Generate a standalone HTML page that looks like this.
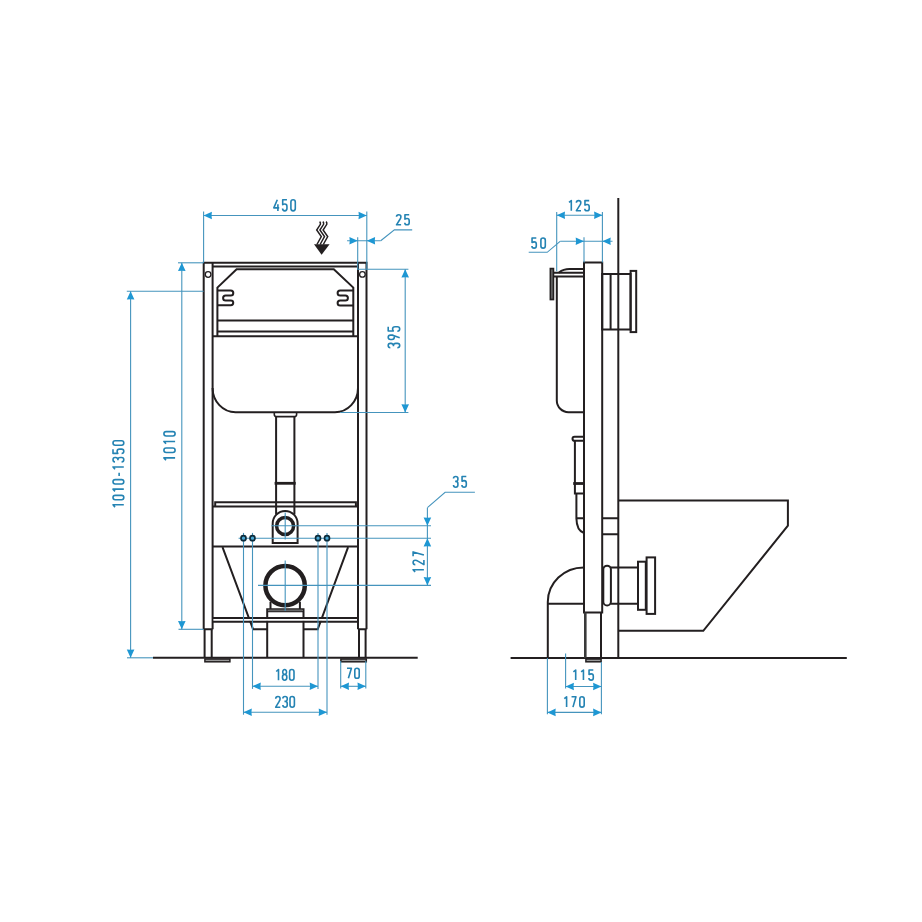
<!DOCTYPE html>
<html><head><meta charset="utf-8"><title>Installation frame drawing</title>
<style>
html,body{margin:0;padding:0;background:#fff;}
body{width:922px;height:922px;overflow:hidden;font-family:"Liberation Sans",sans-serif;}
svg{display:block;}
</style></head>
<body>
<svg width="922" height="922" viewBox="0 0 922 922">
<rect width="922" height="922" fill="#fff"/>
<g stroke="#231f20" stroke-width="2.00" fill="none" stroke-linejoin="miter">
<path d="M203.7,629.3 V262.7 H366.5 V629.3"/>
<path d="M212.6,629.3 V262.7 M358,629.3 V262.7 M212.6,266.5 H358"/>
<path d="M203.7,629.3 H212.6 M358,629.3 H366.5"/>
<path d="M204.6,629.3 V657.8 M211.7,629.3 V657.8 M359,629.3 V657.8 M365.6,629.3 V657.8"/>
<circle cx="208.1" cy="274.5" r="2.8" stroke-width="1.3"/>
<circle cx="362.4" cy="274.4" r="2.8" stroke-width="1.3"/>
<path d="M217.4,336.3 V287.6 L236.6,269.2 H333.8 L353.3,287.6 V336.3"/>
<path d="M217.4,290.4 H230.8 A2.5,2.5 0 0 1 230.8,295.4 H225.6 A2.5,2.5 0 0 0 225.6,300.4 H230.8 A2.45,2.45 0 0 1 230.8,305.3 H217.4"/>
<path d="M353.3,290.4 H340.1 A2.5,2.5 0 0 0 340.1,295.4 H345.4 A2.5,2.5 0 0 1 345.4,300.4 H340.1 A2.5,2.5 0 0 0 340.1,305.4 H353.3"/>
<path d="M217.4,320.4 H353.3 M217.4,331.5 H353.3 M212.6,336.3 H358"/>
<path d="M212.6,388 A23,24.2 0 0 0 235.6,412.2 H335 A23,24.2 0 0 0 358,388"/>
<path d="M274.3,412.2 V414.6 Q274.3,416.6 276.3,416.6 H294.6 Q296.6,416.6 296.6,414.6 V412.2" stroke-width="1.6"/>
<path d="M276.1,416.6 V514.5 M294.4,416.6 V514.5"/>
<path d="M274.6,483.3 H295.7" stroke-width="2.8"/>
<path d="M212.6,506.6 H358 M215.2,506.6 V502.3 H355.9 V506.6"/>
<path d="M272.7,543 V523.4 A12.45,12.45 0 0 1 297.6,523.4 V543 Z"/>
<circle cx="285.1" cy="526.0" r="8.5" stroke-width="3.5"/>
<path d="M212.6,546.6 H358"/>
<path d="M222.5,547.2 L253.1,629.3 H267.2 M303.8,629.3 H317.7 L348.1,547.2"/>
<circle cx="285.1" cy="585.6" r="19.7" stroke-width="4.5"/>
<path d="M270.5,601.7 V609.2 M299.9,601.7 V609.2"/>
<path d="M267.2,657.8 V609.2 H303.5 V657.8"/>
<path d="M267.2,611.6 H303.5" stroke-width="1.4"/>
<path d="M268.2,610.4 H302.5" stroke="#666" stroke-width="1.6"/>
<path d="M153,657.8 H417.7"/>
<rect x="204.9" y="659.0" width="25.0" height="2.8" fill="#999" stroke-width="1.5"/>
<rect x="340.9" y="659.0" width="25.4" height="2.8" fill="#999" stroke-width="1.5"/>
<rect x="213.6" y="618.9" width="143.4" height="2.0" fill="#fff" stroke="none"/>
<path d="M212.6,618 H358 M212.6,621.8 H358"/>
<g stroke-width="1.5">
<path d="M319.60,221.6 Q320.80,222.6 320.40,224.3 L316.70,230 L321.30,236.5 L316.90,244.5"/>
<path d="M322.80,221.6 Q324.00,222.6 323.60,224.3 L319.90,230 L324.50,236.5 L320.10,244.5"/>
<path d="M326.00,221.6 Q327.20,222.6 326.80,224.3 L323.10,230 L327.70,236.5 L323.30,244.5"/>
</g>
<polygon points="314,244.3 329.6,244.3 321.6,254.8" fill="#231f20" stroke="none"/>
<path d="M618.3,198 V657.8"/>
<path d="M510.6,657.9 H846.8"/>
<path d="M584,612.5 V262.5 H602.2 V612.5 Z"/>
<path d="M585.3,612.5 V657.8" stroke="#3a3a3a" stroke-width="2.6"/>
<path d="M601,612.5 V657.8"/>
<rect x="585.9" y="659.0" width="15.2" height="2.8" fill="#999" stroke-width="1.5"/>
<path d="M602.2,518.2 H618.3 M602.2,534.3 H618.3"/>
<path d="M556.8,276.4 V400.5 A11.7,11.7 0 0 0 568.5,412.2 H584"/>
<path d="M553.4,272.8 H584 M553.4,276.4 H584"/>
<path d="M559,272.6 C562,270.2 564.5,269.1 569.5,269.1 H584"/>
<rect x="550.4" y="268.6" width="3.0" height="30.9" fill="#777" stroke-width="1.7"/>
<rect x="602.2" y="274.0" width="28.4" height="55.5"/>
<path d="M610.6,274.0 V329.5"/>
<rect x="630.6" y="270.9" width="5.6" height="61.2"/>
<path d="M584,436.7 H574.5 Q572.5,436.7 572.5,438.7 Q572.5,440.8 574.5,440.8 H584"/>
<path d="M574.9,440.8 V493.5 H584"/>
<path d="M573.2,483.5 H584" stroke-width="2.8"/>
<path d="M576.4,493.5 V518.2 H584 M576.4,518.2 Q576.6,530.5 584,533"/>
<path d="M547.8,657.8 V602 A36,34.6 0 0 1 583.8,567.4"/>
<path d="M547.8,603.8 H583.8"/>
<rect x="603.3" y="565.7" width="7.6" height="39.8" rx="3.8" ry="3.8"/>
<path d="M610.9,567.5 H638 M610.9,603.8 H638"/>
<rect x="638" y="561.7" width="7.8" height="48.1"/>
<rect x="646.6" y="557.4" width="8.5" height="56.5"/>
<path d="M618.3,500.6 H787.9 V525.6 L703.3,630.8 H618.3"/>
</g>
<g stroke="#4594bd" stroke-width="1.10" fill="none">
<line x1="203.60" y1="215.50" x2="366.80" y2="215.50"/>
<line x1="203.60" y1="211.50" x2="203.60" y2="262.70"/>
<line x1="366.80" y1="211.50" x2="366.80" y2="269.20"/>
<line x1="347.10" y1="240.80" x2="380.70" y2="240.80"/>
<polyline points="380.7,240.8 394.4,229.9 412.2,229.9"/>
<line x1="357.70" y1="237.30" x2="357.70" y2="269.20"/>
<line x1="405.20" y1="269.20" x2="405.20" y2="412.50"/>
<line x1="357.20" y1="269.20" x2="408.40" y2="269.20"/>
<line x1="340.40" y1="412.50" x2="408.40" y2="412.50"/>
<line x1="181.80" y1="262.80" x2="181.80" y2="629.30"/>
<line x1="178.00" y1="262.80" x2="203.60" y2="262.80"/>
<line x1="178.50" y1="629.30" x2="203.60" y2="629.30"/>
<line x1="130.60" y1="291.30" x2="130.60" y2="657.80"/>
<line x1="126.80" y1="291.30" x2="203.60" y2="291.30"/>
<line x1="127.00" y1="657.80" x2="153.00" y2="657.80"/>
<line x1="427.40" y1="507.70" x2="427.40" y2="585.50"/>
<polyline points="427.4,507.7 445.1,492.3 474.9,492.3"/>
<line x1="271.30" y1="525.70" x2="431.00" y2="525.70"/>
<line x1="238.60" y1="538.20" x2="431.00" y2="538.20"/>
<line x1="258.00" y1="585.40" x2="431.00" y2="585.40"/>
<line x1="285.20" y1="512.60" x2="285.20" y2="539.60"/>
<line x1="285.20" y1="560.40" x2="285.20" y2="611.00"/>
<line x1="243.50" y1="532.90" x2="243.50" y2="714.70"/>
<line x1="252.50" y1="532.90" x2="252.50" y2="688.90"/>
<line x1="318.00" y1="532.90" x2="318.00" y2="688.90"/>
<line x1="327.00" y1="532.90" x2="327.00" y2="714.70"/>
<line x1="252.50" y1="686.20" x2="318.00" y2="686.20"/>
<line x1="243.50" y1="712.20" x2="327.00" y2="712.20"/>
<line x1="340.70" y1="661.00" x2="340.70" y2="688.60"/>
<line x1="365.80" y1="661.00" x2="365.80" y2="688.60"/>
<line x1="340.70" y1="686.30" x2="365.80" y2="686.30"/>
<line x1="556.70" y1="215.20" x2="602.40" y2="215.20"/>
<line x1="556.70" y1="212.00" x2="556.70" y2="271.30"/>
<line x1="602.40" y1="212.00" x2="602.40" y2="262.50"/>
<line x1="560.40" y1="241.20" x2="612.50" y2="241.20"/>
<polyline points="560.4,241.2 547.2,252.3 528.7,252.3"/>
<line x1="584.00" y1="237.20" x2="584.00" y2="262.50"/>
<line x1="565.60" y1="686.50" x2="601.40" y2="686.50"/>
<line x1="565.60" y1="653.50" x2="565.60" y2="688.50"/>
<line x1="601.40" y1="662.00" x2="601.40" y2="714.30"/>
<line x1="547.40" y1="712.40" x2="601.40" y2="712.40"/>
<line x1="547.40" y1="658.00" x2="547.40" y2="714.30"/>
</g>
<polygon points="203.60,215.50 211.90,211.70 211.55,215.50 211.90,219.30" fill="#1e97d3"/>
<polygon points="366.80,215.50 358.50,211.70 358.85,215.50 358.50,219.30" fill="#1e97d3"/>
<polygon points="357.70,240.80 349.40,237.00 349.75,240.80 349.40,244.60" fill="#1e97d3"/>
<polygon points="366.80,240.80 375.10,237.00 374.75,240.80 375.10,244.60" fill="#1e97d3"/>
<polygon points="405.20,269.20 401.40,277.50 405.20,277.15 409.00,277.50" fill="#1e97d3"/>
<polygon points="405.20,412.50 401.40,404.20 405.20,404.55 409.00,404.20" fill="#1e97d3"/>
<polygon points="181.80,262.80 178.00,271.10 181.80,270.75 185.60,271.10" fill="#1e97d3"/>
<polygon points="181.80,629.30 178.00,621.00 181.80,621.35 185.60,621.00" fill="#1e97d3"/>
<polygon points="130.60,291.30 126.80,299.60 130.60,299.25 134.40,299.60" fill="#1e97d3"/>
<polygon points="130.60,657.80 126.80,649.50 130.60,649.85 134.40,649.50" fill="#1e97d3"/>
<polygon points="427.40,525.70 423.60,517.40 427.40,517.75 431.20,517.40" fill="#1e97d3"/>
<polygon points="427.40,538.20 423.60,546.50 427.40,546.15 431.20,546.50" fill="#1e97d3"/>
<polygon points="427.40,585.40 423.60,577.10 427.40,577.45 431.20,577.10" fill="#1e97d3"/>
<polygon points="252.50,686.20 260.80,682.40 260.45,686.20 260.80,690.00" fill="#1e97d3"/>
<polygon points="318.00,686.20 309.70,682.40 310.05,686.20 309.70,690.00" fill="#1e97d3"/>
<polygon points="243.50,712.20 251.80,708.40 251.45,712.20 251.80,716.00" fill="#1e97d3"/>
<polygon points="327.00,712.20 318.70,708.40 319.05,712.20 318.70,716.00" fill="#1e97d3"/>
<polygon points="340.70,686.30 349.00,682.50 348.65,686.30 349.00,690.10" fill="#1e97d3"/>
<polygon points="365.80,686.30 357.50,682.50 357.85,686.30 357.50,690.10" fill="#1e97d3"/>
<polygon points="556.70,215.20 565.00,211.40 564.65,215.20 565.00,219.00" fill="#1e97d3"/>
<polygon points="602.40,215.20 594.10,211.40 594.45,215.20 594.10,219.00" fill="#1e97d3"/>
<polygon points="584.00,241.20 575.70,237.40 576.05,241.20 575.70,245.00" fill="#1e97d3"/>
<polygon points="602.40,241.20 610.70,237.40 610.35,241.20 610.70,245.00" fill="#1e97d3"/>
<polygon points="565.60,686.50 573.90,682.70 573.55,686.50 573.90,690.30" fill="#1e97d3"/>
<polygon points="601.40,686.50 593.10,682.70 593.45,686.50 593.10,690.30" fill="#1e97d3"/>
<polygon points="547.40,712.40 555.70,708.60 555.35,712.40 555.70,716.20" fill="#1e97d3"/>
<polygon points="601.40,712.40 593.10,708.60 593.45,712.40 593.10,716.20" fill="#1e97d3"/>
<circle cx="243.50" cy="538.2" r="2.5" fill="#4aa9d6" stroke="#0d2b3a" stroke-width="1.7"/>
<circle cx="252.50" cy="538.2" r="2.5" fill="#4aa9d6" stroke="#0d2b3a" stroke-width="1.7"/>
<circle cx="318.00" cy="538.2" r="2.5" fill="#4aa9d6" stroke="#0d2b3a" stroke-width="1.7"/>
<circle cx="327.00" cy="538.2" r="2.5" fill="#4aa9d6" stroke="#0d2b3a" stroke-width="1.7"/>
<g fill="none" stroke="#2483b3" stroke-width="1.60" stroke-linecap="butt" stroke-linejoin="round">
<g transform="translate(273.00,199.70)"><path transform="translate(3.40,0) scale(1,1.0419)" vector-effect="non-scaling-stroke" d="M0.9,0 L-2.6,7.8 H2.8000000000000003 M1.5,4.4 V10.75"/><path transform="translate(11.75,0) scale(1,1.0419)" vector-effect="non-scaling-stroke" d="M2.2,0 H-2.0500000000000003 V4.8 C-1.3,4.25 -0.6,4.1 0,4.1 A2.2,2.4 0 0 1 2.2,6.5 V8.55 A2.2,2.2 0 0 1 -2.2,8.55"/><path transform="translate(20.10,0) scale(1,1.0419)" vector-effect="non-scaling-stroke" d="M-2.2,2.2 V8.55 A2.2,2.2 0 0 0 2.2,8.55 V2.2 A2.2,2.2 0 0 0 -2.2,2.2 Z"/></g>
<g transform="translate(395.70,214.70)"><path transform="translate(3.00,0) scale(1,0.9395)" vector-effect="non-scaling-stroke" d="M-2.2,2.2 A2.2,2.2 0 0 1 2.2,2.2 Q2.2,3.5 1.3,4.8 L-2.2,10.75 H2.4000000000000004"/><path transform="translate(11.30,0) scale(1,0.9395)" vector-effect="non-scaling-stroke" d="M2.2,0 H-2.0500000000000003 V4.8 C-1.3,4.25 -0.6,4.1 0,4.1 A2.2,2.4 0 0 1 2.2,6.5 V8.55 A2.2,2.2 0 0 1 -2.2,8.55"/></g>
<g transform="translate(400.50,348.60) rotate(-90)"><g transform="translate(0,-12.30)"><path transform="translate(3.00,0) scale(1,1.0698)" vector-effect="non-scaling-stroke" d="M-2.2,2.0 A2.2,2.0 0 0 1 2.2,2.0 V2.7 A2.1,2.2 0 0 1 0.0,4.9 H-0.6 M0.0,4.9 A2.2,2.3 0 0 1 2.2,7.2 V8.55 A2.2,2.2 0 0 1 -2.2,8.55"/><path transform="translate(11.30,0) scale(1,1.0698)" vector-effect="non-scaling-stroke" d="M-2.2,2.2 V3.5 A2.2,2.2 0 0 0 2.2,3.5 V2.2 A2.2,2.2 0 0 0 -2.2,2.2 Z M2.2,3.5 L-0.4,10.75"/><path transform="translate(19.60,0) scale(1,1.0698)" vector-effect="non-scaling-stroke" d="M2.2,0 H-2.0500000000000003 V4.8 C-1.3,4.25 -0.6,4.1 0,4.1 A2.2,2.4 0 0 1 2.2,6.5 V8.55 A2.2,2.2 0 0 1 -2.2,8.55"/></g></g>
<g transform="translate(175.90,461.00) rotate(-90)"><g transform="translate(0,-12.00)"><path transform="translate(2.50,0) scale(1,1.0419)" vector-effect="non-scaling-stroke" d="M-1.7,2.0 L0.6,0 V10.75"/><path transform="translate(10.73,0) scale(1,1.0419)" vector-effect="non-scaling-stroke" d="M-2.2,2.2 V8.55 A2.2,2.2 0 0 0 2.2,8.55 V2.2 A2.2,2.2 0 0 0 -2.2,2.2 Z"/><path transform="translate(18.97,0) scale(1,1.0419)" vector-effect="non-scaling-stroke" d="M-1.7,2.0 L0.6,0 V10.75"/><path transform="translate(27.20,0) scale(1,1.0419)" vector-effect="non-scaling-stroke" d="M-2.2,2.2 V8.55 A2.2,2.2 0 0 0 2.2,8.55 V2.2 A2.2,2.2 0 0 0 -2.2,2.2 Z"/></g></g>
<g transform="translate(124.60,507.90) rotate(-90)"><g transform="translate(0,-11.60)"><path transform="translate(2.50,0) scale(1,1.0047)" vector-effect="non-scaling-stroke" d="M-1.7,2.0 L0.6,0 V10.75"/><path transform="translate(10.35,0) scale(1,1.0047)" vector-effect="non-scaling-stroke" d="M-2.2,2.2 V8.55 A2.2,2.2 0 0 0 2.2,8.55 V2.2 A2.2,2.2 0 0 0 -2.2,2.2 Z"/><path transform="translate(18.20,0) scale(1,1.0047)" vector-effect="non-scaling-stroke" d="M-1.7,2.0 L0.6,0 V10.75"/><path transform="translate(26.05,0) scale(1,1.0047)" vector-effect="non-scaling-stroke" d="M-2.2,2.2 V8.55 A2.2,2.2 0 0 0 2.2,8.55 V2.2 A2.2,2.2 0 0 0 -2.2,2.2 Z"/><path transform="translate(33.45,0) scale(1,1.0047)" vector-effect="non-scaling-stroke" d="M-1.6,6.1 H1.6"/><path transform="translate(40.35,0) scale(1,1.0047)" vector-effect="non-scaling-stroke" d="M-1.7,2.0 L0.6,0 V10.75"/><path transform="translate(48.20,0) scale(1,1.0047)" vector-effect="non-scaling-stroke" d="M-2.2,2.0 A2.2,2.0 0 0 1 2.2,2.0 V2.7 A2.1,2.2 0 0 1 0.0,4.9 H-0.6 M0.0,4.9 A2.2,2.3 0 0 1 2.2,7.2 V8.55 A2.2,2.2 0 0 1 -2.2,8.55"/><path transform="translate(56.55,0) scale(1,1.0047)" vector-effect="non-scaling-stroke" d="M2.2,0 H-2.0500000000000003 V4.8 C-1.3,4.25 -0.6,4.1 0,4.1 A2.2,2.4 0 0 1 2.2,6.5 V8.55 A2.2,2.2 0 0 1 -2.2,8.55"/><path transform="translate(64.90,0) scale(1,1.0047)" vector-effect="non-scaling-stroke" d="M-2.2,2.2 V8.55 A2.2,2.2 0 0 0 2.2,8.55 V2.2 A2.2,2.2 0 0 0 -2.2,2.2 Z"/></g></g>
<g transform="translate(452.70,476.50)"><path transform="translate(3.00,0) scale(1,0.9953)" vector-effect="non-scaling-stroke" d="M-2.2,2.0 A2.2,2.0 0 0 1 2.2,2.0 V2.7 A2.1,2.2 0 0 1 0.0,4.9 H-0.6 M0.0,4.9 A2.2,2.3 0 0 1 2.2,7.2 V8.55 A2.2,2.2 0 0 1 -2.2,8.55"/><path transform="translate(11.40,0) scale(1,0.9953)" vector-effect="non-scaling-stroke" d="M2.2,0 H-2.0500000000000003 V4.8 C-1.3,4.25 -0.6,4.1 0,4.1 A2.2,2.4 0 0 1 2.2,6.5 V8.55 A2.2,2.2 0 0 1 -2.2,8.55"/></g>
<g transform="translate(424.70,572.80) rotate(-90)"><g transform="translate(0,-11.60)"><path transform="translate(2.50,0) scale(1,1.0047)" vector-effect="non-scaling-stroke" d="M-1.7,2.0 L0.6,0 V10.75"/><path transform="translate(10.35,0) scale(1,1.0047)" vector-effect="non-scaling-stroke" d="M-2.2,2.2 A2.2,2.2 0 0 1 2.2,2.2 Q2.2,3.5 1.3,4.8 L-2.2,10.75 H2.4000000000000004"/><path transform="translate(18.70,0) scale(1,1.0047)" vector-effect="non-scaling-stroke" d="M-2.2,0 H2.2 L-0.8,10.75"/></g></g>
<g transform="translate(275.40,669.50)"><path transform="translate(2.50,0) scale(1,1.0047)" vector-effect="non-scaling-stroke" d="M-1.7,2.0 L0.6,0 V10.75"/><path transform="translate(9.24,0) scale(1,1.0047)" vector-effect="non-scaling-stroke" d="M0,4.85 A1.9,2.425 0 1 1 0,0 A1.9,2.425 0 1 1 0,4.85 Z M0,4.85 A2.2,2.95 0 1 1 0,10.75 A2.2,2.95 0 1 1 0,4.85 Z"/><path transform="translate(16.40,0) scale(1,1.0047)" vector-effect="non-scaling-stroke" d="M-2.2,2.2 V8.55 A2.2,2.2 0 0 0 2.2,8.55 V2.2 A2.2,2.2 0 0 0 -2.2,2.2 Z"/></g>
<g transform="translate(274.90,696.55)"><path transform="translate(3.00,0) scale(1,0.9907)" vector-effect="non-scaling-stroke" d="M-2.2,2.2 A2.2,2.2 0 0 1 2.2,2.2 Q2.2,3.5 1.3,4.8 L-2.2,10.75 H2.4000000000000004"/><path transform="translate(10.15,0) scale(1,0.9907)" vector-effect="non-scaling-stroke" d="M-2.2,2.0 A2.2,2.0 0 0 1 2.2,2.0 V2.7 A2.1,2.2 0 0 1 0.0,4.9 H-0.6 M0.0,4.9 A2.2,2.3 0 0 1 2.2,7.2 V8.55 A2.2,2.2 0 0 1 -2.2,8.55"/><path transform="translate(17.30,0) scale(1,0.9907)" vector-effect="non-scaling-stroke" d="M-2.2,2.2 V8.55 A2.2,2.2 0 0 0 2.2,8.55 V2.2 A2.2,2.2 0 0 0 -2.2,2.2 Z"/></g>
<g transform="translate(346.20,668.20)"><path transform="translate(3.00,0) scale(1,0.9302)" vector-effect="non-scaling-stroke" d="M-2.2,0 H2.2 L-0.8,10.75"/><path transform="translate(10.80,0) scale(1,0.9302)" vector-effect="non-scaling-stroke" d="M-2.2,2.2 V8.55 A2.2,2.2 0 0 0 2.2,8.55 V2.2 A2.2,2.2 0 0 0 -2.2,2.2 Z"/></g>
<g transform="translate(568.20,200.60)"><path transform="translate(2.50,0) scale(1,0.9395)" vector-effect="non-scaling-stroke" d="M-1.7,2.0 L0.6,0 V10.75"/><path transform="translate(10.40,0) scale(1,0.9395)" vector-effect="non-scaling-stroke" d="M-2.2,2.2 A2.2,2.2 0 0 1 2.2,2.2 Q2.2,3.5 1.3,4.8 L-2.2,10.75 H2.4000000000000004"/><path transform="translate(18.80,0) scale(1,0.9395)" vector-effect="non-scaling-stroke" d="M2.2,0 H-2.0500000000000003 V4.8 C-1.3,4.25 -0.6,4.1 0,4.1 A2.2,2.4 0 0 1 2.2,6.5 V8.55 A2.2,2.2 0 0 1 -2.2,8.55"/></g>
<g transform="translate(531.10,238.00)"><path transform="translate(3.00,0) scale(1,0.9395)" vector-effect="non-scaling-stroke" d="M2.2,0 H-2.0500000000000003 V4.8 C-1.3,4.25 -0.6,4.1 0,4.1 A2.2,2.4 0 0 1 2.2,6.5 V8.55 A2.2,2.2 0 0 1 -2.2,8.55"/><path transform="translate(12.00,0) scale(1,0.9395)" vector-effect="non-scaling-stroke" d="M-2.2,2.2 V8.55 A2.2,2.2 0 0 0 2.2,8.55 V2.2 A2.2,2.2 0 0 0 -2.2,2.2 Z"/></g>
<g transform="translate(572.60,670.00)"><path transform="translate(2.50,0) scale(1,0.9395)" vector-effect="non-scaling-stroke" d="M-1.7,2.0 L0.6,0 V10.75"/><path transform="translate(10.24,0) scale(1,0.9395)" vector-effect="non-scaling-stroke" d="M-1.7,2.0 L0.6,0 V10.75"/><path transform="translate(18.50,0) scale(1,0.9395)" vector-effect="non-scaling-stroke" d="M2.2,0 H-2.0500000000000003 V4.8 C-1.3,4.25 -0.6,4.1 0,4.1 A2.2,2.4 0 0 1 2.2,6.5 V8.55 A2.2,2.2 0 0 1 -2.2,8.55"/></g>
<g transform="translate(563.50,696.80)"><path transform="translate(2.50,0) scale(1,0.9581)" vector-effect="non-scaling-stroke" d="M-1.7,2.0 L0.6,0 V10.75"/><path transform="translate(10.25,0) scale(1,0.9581)" vector-effect="non-scaling-stroke" d="M-2.2,0 H2.2 L-0.8,10.75"/><path transform="translate(18.50,0) scale(1,0.9581)" vector-effect="non-scaling-stroke" d="M-2.2,2.2 V8.55 A2.2,2.2 0 0 0 2.2,8.55 V2.2 A2.2,2.2 0 0 0 -2.2,2.2 Z"/></g>
</g>
</svg>
</body></html>
